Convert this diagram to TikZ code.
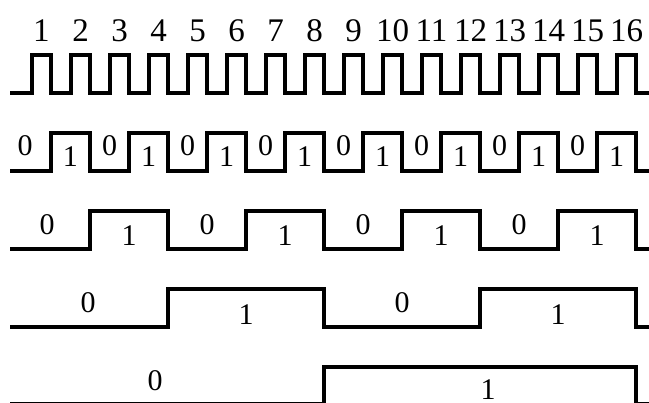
\documentclass[tikz,border=0pt]{standalone}
\usepackage{fontspec}
\setmainfont{Liberation Serif}
\begin{document}
\begin{tikzpicture}[x=1pt,y=-1pt,
  wave/.style={line width=3.2pt,line join=miter,line cap=rect},
  num/.style={inner sep=0pt,font=\fontsize{33}{33}\selectfont},
  lab/.style={inner sep=0pt,font=\fontsize{30}{30}\selectfont}]
\useasboundingbox (0,0) rectangle (649,403);
% clock
\draw[wave] (12,93) \foreach \k in {0,...,15}{ -- ({32+39*\k},93) -- ({32+39*\k},55) -- ({51+39*\k},55) -- ({51+39*\k},93) } -- (652,93);
\foreach \k [evaluate=\k as \n using int(\k+1)] in {0,...,15}
  \node[num] (c\n) at ({41.5+39*\k},31) {\n};
% row 2
\draw[wave] (12,171) \foreach \k in {0,...,7}{ -- ({51+78*\k},171) -- ({51+78*\k},133) -- ({90+78*\k},133) -- ({90+78*\k},171) } -- (652,171);
\node[lab] (a0) at (25,146) {0};
\foreach \j in {0,...,6} \node[lab] (az\j) at ({109.5+78*\j},146) {0};
\foreach \j in {0,...,7} \node[lab] (ao\j) at ({70.5+78*\j},157) {1};
% row 3
\draw[wave] (12,249) \foreach \j in {0,...,3}{ -- ({90+156*\j},249) -- ({90+156*\j},211) -- ({168+156*\j},211) -- ({168+156*\j},249) } -- (652,249);
\node[lab] (b0) at (47,225) {0};
\foreach \j in {0,...,2} \node[lab] (bz\j) at ({207+156*\j},225) {0};
\foreach \j in {0,...,3} \node[lab] (bo\j) at ({129+156*\j},236) {1};
% row 4
\draw[wave] (12,327) \foreach \j in {0,1}{ -- ({168+312*\j},327) -- ({168+312*\j},289) -- ({324+312*\j},289) -- ({324+312*\j},327) } -- (652,327);
\node[lab] (d0) at (88,302.5) {0};
\node[lab] (d1) at (402,302.5) {0};
\node[lab] (d2) at (246,314.5) {1};
\node[lab] (d3) at (558,314.5) {1};
% row 5
\draw[wave] (12,404) -- (324,404) -- (324,367) -- (636,367) -- (636,404) -- (652,404);
\node[lab] (e0) at (155,380.5) {0};
\node[lab] (e1) at (488,390) {1};
\end{tikzpicture}
\end{document}
